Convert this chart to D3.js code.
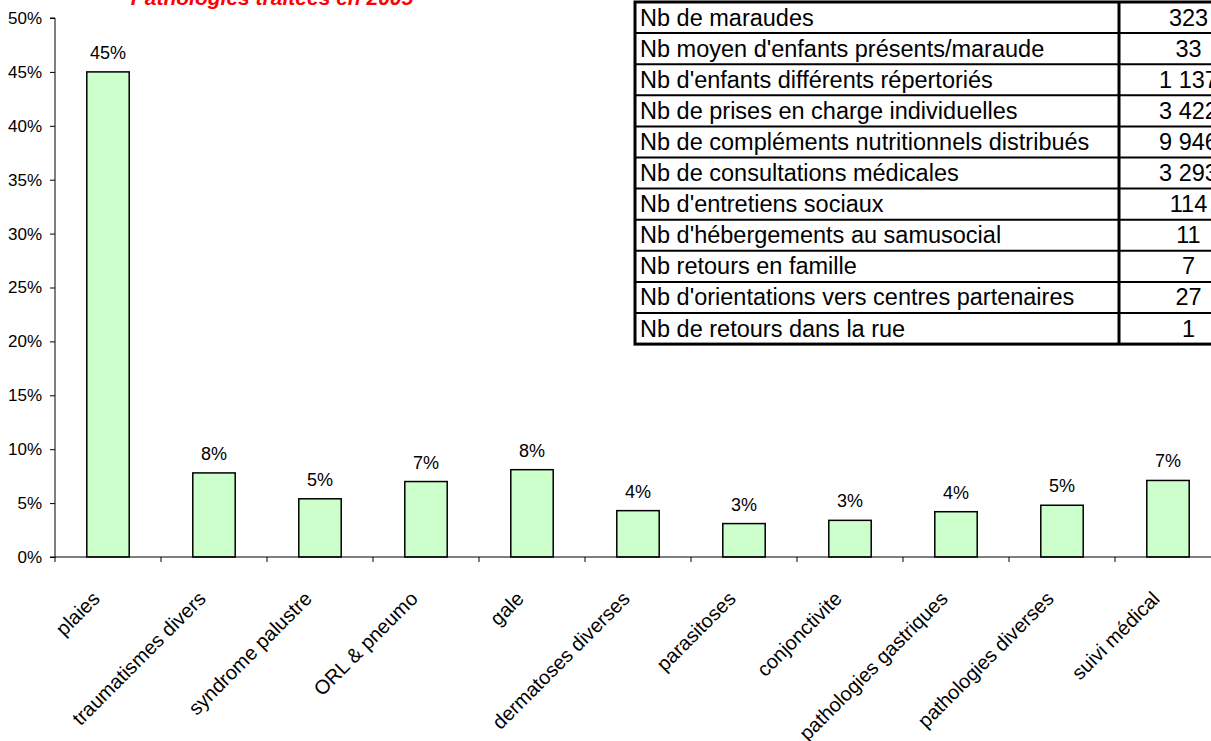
<!DOCTYPE html>
<html>
<head>
<meta charset="utf-8">
<script src="https://cdn.jsdelivr.net/npm/d3@7"></script>
<style>
  body { margin: 0; background: #fff; }
  svg { display: block; font-family: Arial, "Liberation Sans", sans-serif; }
</style>
</head>
<body>
<svg id="chart" width="1211" height="741"></svg>
<script>
  // bar chart data
  var categories = ['plaies', 'traumatismes divers', 'syndrome palustre', 'ORL & pneumo', 'gale',
    'dermatoses diverses', 'parasitoses', 'conjonctivite', 'pathologies gastriques',
    'pathologies diverses', 'suivi médical']
  var shares = [0.45, 0.078, 0.054, 0.07, 0.081, 0.043, 0.031, 0.034, 0.042, 0.048, 0.071]
  var yTicks = [0, 0.05, 0.1, 0.15, 0.2, 0.25, 0.3, 0.35, 0.4, 0.45, 0.5]

  // activity table
  var tableLabels = ['Nb de maraudes', "Nb moyen d'enfants présents/maraude", "Nb d'enfants différents répertoriés",
    'Nb de prises en charge individuelles', 'Nb de compléments nutritionnels distribués',
    'Nb de consultations médicales', "Nb d'entretiens sociaux", "Nb d'hébergements au samusocial",
    'Nb retours en famille', "Nb d'orientations vers centres partenaires", 'Nb de retours dans la rue']
  var tableValues = ['323', '33', '1 137', '3 422', '9 946', '3 293', '114', '11', '7', '27', '1']

  var svg = d3.select('#chart')
  var plotLeft = 55
  var plotBottom = 557
  var plotTop = 18

  var x = d3.scaleBand().domain(categories).range([plotLeft, plotLeft + 106 * categories.length]).paddingInner(0.6).paddingOuter(0.3)
  var y = d3.scaleLinear().domain([0, 0.5]).range([plotBottom, plotTop])
  var step = x.step()
  var pct = d3.format('.0%')

  // title (cut at the top like the source)
  svg.append('text')
    .attr('x', 272).attr('y', 5)
    .attr('text-anchor', 'middle')
    .attr('fill', '#ff0000')
    .style('font-size', '21px').style('font-weight', 'bold').style('font-style', 'italic')
    .text('Pathologies traitées en 2005')

  // y axis
  var yAxis = svg.append('g')
    .attr('transform', 'translate(' + plotLeft + ',0)')
    .call(d3.axisLeft(y).tickValues(yTicks).tickFormat(pct).tickSize(5).tickPadding(8))
  yAxis.select('.domain').attr('stroke', '#000').attr('d', 'M-5,' + plotTop + 'H0V' + plotBottom + 'H-5')
  yAxis.selectAll('.tick line').attr('stroke', '#000')
  yAxis.selectAll('.tick text').style('font-size', '17px').attr('fill', '#000')

  // bars
  svg.append('g').selectAll('rect')
    .data(shares)
    .join('rect')
    .attr('x', function (d, i) { return x(categories[i]) })
    .attr('y', function (d) { return y(d) })
    .attr('width', x.bandwidth())
    .attr('height', function (d) { return plotBottom - y(d) })
    .attr('fill', '#ccffcc')
    .attr('stroke', '#000')
    .attr('stroke-width', 1.5)

  svg.append('g').selectAll('text')
    .data(shares)
    .join('text')
    .attr('x', function (d, i) { return x(categories[i]) + x.bandwidth() / 2 })
    .attr('y', function (d) { return y(d) - 13 })
    .attr('text-anchor', 'middle')
    .style('font-size', '18px')
    .text(function (d) { return pct(d) })

  // x axis
  var xAxisG = svg.append('g')
  xAxisG.append('line')
    .attr('x1', plotLeft).attr('x2', plotLeft + step * categories.length)
    .attr('y1', plotBottom).attr('y2', plotBottom)
    .attr('stroke', '#000')
  xAxisG.selectAll('line.tick')
    .data(d3.range(categories.length + 1))
    .join('line')
    .attr('class', 'tick')
    .attr('x1', function (i) { return plotLeft + i * step })
    .attr('x2', function (i) { return plotLeft + i * step })
    .attr('y1', plotBottom).attr('y2', plotBottom + 5)
    .attr('stroke', '#000')
  xAxisG.selectAll('text')
    .data(categories)
    .join('text')
    .attr('text-anchor', 'end')
    .style('font-size', '20px')
    .attr('transform', function (d) {
      return 'translate(' + (x(d) + x.bandwidth() / 2 - 7) + ',' + (plotBottom + 43) + ') rotate(-45)'
    })
    .text(function (d) { return d })

  // table
  var tLeft = 635
  var tDiv = 1119
  var tRight = 1258
  var tTop = 2
  var rowH = 31.1
  var tbl = svg.append('g')
  tbl.append('rect')
    .attr('x', tLeft).attr('y', tTop)
    .attr('width', tRight - tLeft).attr('height', rowH * tableLabels.length)
    .attr('fill', '#fff').attr('stroke', '#000').attr('stroke-width', 3)
  tbl.selectAll('line.row')
    .data(d3.range(1, tableLabels.length))
    .join('line')
    .attr('class', 'row')
    .attr('x1', tLeft).attr('x2', tRight)
    .attr('y1', function (i) { return tTop + i * rowH })
    .attr('y2', function (i) { return tTop + i * rowH })
    .attr('stroke', '#000').attr('stroke-width', 2)
  tbl.append('line')
    .attr('x1', tDiv).attr('x2', tDiv)
    .attr('y1', tTop).attr('y2', tTop + rowH * tableLabels.length)
    .attr('stroke', '#000').attr('stroke-width', 3)
  tbl.selectAll('text.lab')
    .data(tableLabels)
    .join('text')
    .attr('class', 'lab')
    .attr('x', tLeft + 5)
    .attr('y', function (d, i) { return tTop + i * rowH + rowH / 2 + 8 })
    .style('font-size', '23.5px')
    .text(function (d) { return d })
  tbl.selectAll('text.val')
    .data(tableValues)
    .join('text')
    .attr('class', 'val')
    .attr('x', (tDiv + tRight) / 2)
    .attr('y', function (d, i) { return tTop + i * rowH + rowH / 2 + 8 })
    .attr('text-anchor', 'middle')
    .style('font-size', '23.5px')
    .text(function (d) { return d })
</script>
</body>
</html>
